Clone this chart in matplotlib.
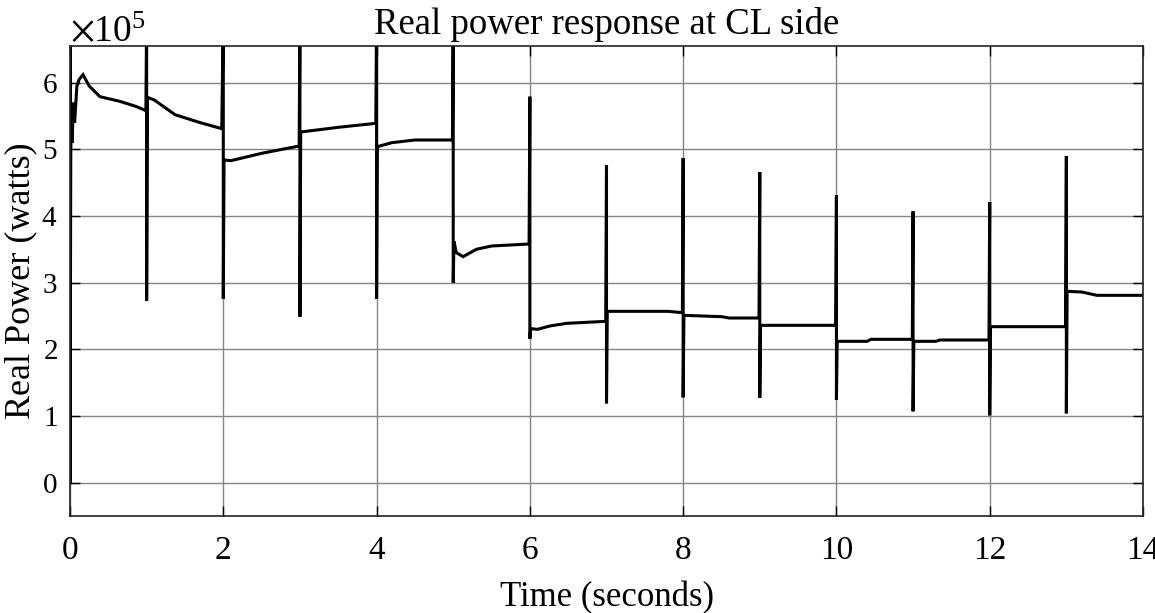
import numpy as np
import matplotlib
matplotlib.use("Agg")
import matplotlib.pyplot as plt
from matplotlib.ticker import ScalarFormatter

plt.rcParams['font.family'] = ['Liberation Serif', 'DejaVu Serif']
plt.rcParams['mathtext.fontset'] = 'stix'

# switching instants (s) and the transient spike extremes (x 1e5 W)
spike_t = [0, 1, 2, 3, 4, 5, 6, 7, 8, 9, 10, 11, 12, 13]
spike_hi = [7.0, 7.0, 7.0, 7.0, 7.0, 7.0, 5.79, 4.76, 4.87, 4.66, 4.31, 4.07, 4.21, 4.90]
spike_lo = [0.0, 2.73, 2.76, 2.49, 2.76, 3.00, 2.16, 1.19, 1.28, 1.27, 1.24, 1.07, 1.01, 1.04]

# settled response between switching instants (time s, power x 1e5 W)
seg_t = [
    [0.01, 0.02, 0.03, 0.04, 0.06, 0.09, 0.12, 0.17, 0.25, 0.39, 0.65, 0.87, 0.99],
    [1.01, 1.10, 1.37, 1.70, 1.98],
    [2.01, 2.10, 2.50, 2.99],
    [3.01, 3.50, 3.99],
    [4.01, 4.20, 4.50, 4.99],
    [5.01, 5.04, 5.13, 5.30, 5.50, 5.99],
    [6.01, 6.10, 6.26, 6.48, 6.99],
    [7.01, 7.80, 7.99],
    [8.01, 8.50, 8.60, 8.99],
    [9.01, 9.99],
    [10.01, 10.40, 10.45, 10.99],
    [11.01, 11.30, 11.35, 11.99],
    [12.01, 12.99],
    [13.01, 13.20, 13.40, 14.00],
]
seg_p = [
    [4.95, 5.60, 5.10, 5.70, 5.40, 5.95, 6.05, 6.12, 5.95, 5.79, 5.72, 5.64, 5.58],
    [5.78, 5.74, 5.52, 5.40, 5.31],
    [4.84, 4.83, 4.94, 5.05],
    [5.26, 5.33, 5.39],
    [5.04, 5.10, 5.14, 5.14],
    [3.62, 3.45, 3.39, 3.50, 3.55, 3.58],
    [2.31, 2.30, 2.35, 2.39, 2.42],
    [2.57, 2.57, 2.55],
    [2.51, 2.49, 2.47, 2.47],
    [2.36, 2.36],
    [2.12, 2.12, 2.15, 2.15],
    [2.12, 2.12, 2.14, 2.14],
    [2.34, 2.34],
    [2.87, 2.86, 2.81, 2.81],
]

# stitch spikes and segments into one trace
t_all, p_all = [0.0], [0.0]
for k in range(len(spike_t)):
    t_all += [spike_t[k], spike_t[k]]
    p_all += [spike_hi[k], spike_lo[k]]
    t_all += seg_t[k]
    p_all += seg_p[k]
t_all = np.array(t_all)
p_all = np.array(p_all) * 1e5

fig = plt.figure(figsize=(11.55, 6.13), dpi=100)
ax = fig.add_axes([70 / 1155, 97 / 613, 1073 / 1155, 470 / 613])

ax.plot(t_all, p_all, color='black', lw=2.2, solid_joinstyle='miter')

ax.set_xlim(0, 14)
ax.set_ylim(-0.5e5, 6.55e5)
ax.set_xticks(np.arange(0, 15, 2))
ax.set_yticks(np.arange(0, 7) * 1e5)

fmt = ScalarFormatter(useMathText=True)
fmt.set_powerlimits((0, 0))
ax.yaxis.set_major_formatter(fmt)
ax.yaxis.get_offset_text().set_fontsize(27)

ax.grid(True, color='#858585', lw=1.0)
ax.set_axisbelow(True)
ax.tick_params(direction='in', length=7, width=1, top=True, right=True)
ax.tick_params(axis='y', labelsize=21, pad=9)
ax.tick_params(axis='x', labelsize=24, pad=14)
for s in ax.spines.values():
    s.set_linewidth(1.2)
    s.set_color('#222222')

ax.set_title('Real power response at CL side', fontsize=26.5, pad=9)
ax.set_xlabel('Time (seconds)', fontsize=25, labelpad=11)
ax.set_ylabel('Real Power (watts)', fontsize=26, labelpad=3)

fig.savefig('out.png', dpi=100)
